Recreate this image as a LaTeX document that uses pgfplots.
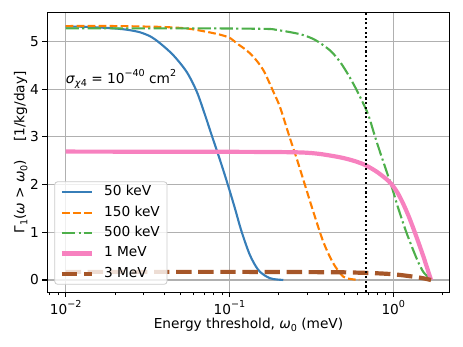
\documentclass[border=0pt]{standalone}
\usepackage{pgfplots}
\pgfplotsset{compat=1.18}
\usepackage{fontspec}
\setmainfont{DejaVu Sans}
\definecolor{cbblue}{HTML}{377EB8}
\definecolor{cborange}{HTML}{FF7F00}
\definecolor{cbgreen}{HTML}{4DAF4A}
\definecolor{cbpink}{HTML}{F781BF}
\definecolor{cbbrown}{HTML}{A65628}
\definecolor{gridgray}{HTML}{B0B0B0}
\definecolor{leggray}{HTML}{CCCCCC}
\newcommand{\lsub}[1]{\raisebox{-0.22em}{\fontsize{9.6}{10}\selectfont #1}}
\newcommand{\lsup}[1]{\raisebox{0.5em}{\fontsize{9.6}{10}\selectfont #1}}
\newcommand{\ff}{\fontsize{13.7}{16}\selectfont}

\pgfplotstableread{
x y
0.010 5.31
0.013 5.305
0.016 5.29
0.020 5.27
0.024 5.24
0.0284 5.19
0.033 5.10
0.0377 4.96
0.0454 4.71
0.0548 4.36
0.0631 3.95
0.0709 3.46
0.0778 3.04
0.0842 2.69
0.0917 2.30
0.0997 1.90
0.108 1.50
0.1187 1.01
0.1334 0.52
0.150 0.21
0.1687 0.07
0.185 0.02
0.213 0.0
}\kevfifty

\pgfplotstableread{
x y
0.010 5.32
0.02 5.32
0.03 5.31
0.04 5.30
0.0548 5.27
0.07 5.21
0.0875 5.14
0.1007 5.07
0.1107 4.96
0.125 4.83
0.1397 4.68
0.1608 4.40
0.185 3.95
0.2036 3.62
0.234 2.97
0.257 2.55
0.289 1.99
0.325 1.43
0.374 0.80
0.430 0.35
0.495 0.07
0.55 0.02
0.62 0.0
}\kevonefifty

\pgfplotstableread{
x y
0.010 5.27
0.05 5.27
0.0875 5.27
0.1686 5.26
0.194 5.24
0.2695 5.15
0.333 5.03
0.411 4.81
0.473 4.57
0.531 4.30
0.583 4.05
0.641 3.77
0.704 3.46
0.7555 3.12
0.791 2.90
0.849 2.58
0.932 2.17
0.977 1.96
1.024 1.73
1.073 1.50
1.207 0.98
1.389 0.45
1.524 0.17
1.674 0.03
1.70 0.0
}\kevfivehundred

\pgfplotstableread{
x y
0.010 2.69
0.1 2.685
0.2 2.68
0.282 2.67
0.357 2.64
0.473 2.57
0.570 2.50
0.672 2.41
0.791 2.27
0.910 2.11
0.955 2.04
1.0 1.96
1.073 1.80
1.152 1.59
1.24 1.34
1.326 1.08
1.42 0.80
1.524 0.50
1.61 0.25
1.70 0.0
}\mevone

\pgfplotstableread{
x y
0.010 0.17
0.1 0.17
0.3 0.165
0.5 0.16
0.66 0.15
0.8 0.14
1.0 0.12
1.26 0.08
1.5 0.04
1.70 0.0
}\mevthree

\begin{document}
\begin{tikzpicture}
\path[use as bounding box] (0,0) rectangle (463pt,347pt);
\begin{axis}[
  at={(47.3pt,54.7pt)}, anchor=south west,
  scale only axis, width=402.4pt, height=279.6pt,
  xmode=log, xmin=0.00773, xmax=2.21, ymin=-0.258, ymax=5.60,
  axis line style={line width=1.1pt},
  tick align=outside, tick pos=left,
  major tick length=4.9pt, minor tick length=2.8pt,
  every major tick/.style={black, line width=1.1pt},
  every minor tick/.style={black, line width=0.8pt},
  grid=major, major grid style={color=gridgray, line width=1.1pt},
  xtick={0.01,0.1,1},
  xticklabels={10\lsup{−2},10\lsup{−1},10\lsup{0}},
  minor xtick={0.008,0.009,0.02,0.03,0.04,0.05,0.06,0.07,0.08,0.09,0.2,0.3,0.4,0.5,0.6,0.7,0.8,0.9,2},
  ytick={0,1,2,3,4,5},
  yticklabels={0,1,2,3,4,5},
  tick label style={font=\ff},
  every axis x label/.style={at={(axis description cs:0.5,-0.117)}, anchor=center, font=\ff},
  every axis y label/.style={at={(axis description cs:-0.066,0.5)}, rotate=90, anchor=center, font=\ff},
  xlabel={Energy threshold, \textit{ω}\lsub{0} (meV)},
  ylabel={Γ\lsub{1}(\textit{ω} > \textit{ω}\lsub{0})\hspace{18pt}[1/kg/day]},
  legend cell align=left,
  legend image code/.code={\draw[#1] (0pt,0pt) -- (30pt,0pt);},
  legend style={at={(0.0174,0.027)}, anchor=south west, draw=leggray, line width=0.8pt,
    rounded corners=3pt, fill=white, fill opacity=0.8, text opacity=1, draw opacity=1,
    font=\ff, inner xsep=5.2pt, inner ysep=4pt, row sep=7.4pt, column sep=8pt,
    nodes={font=\ff, inner xsep=2pt, inner ysep=0pt, text height=10pt, text depth=3pt}},
  every axis plot/.append style={line join=round},
]
\addplot[cbblue, line width=2.1pt, smooth, tension=0.5] table[x=x,y=y] {\kevfifty};
\addlegendentry{50 keV}
\addplot[cborange, line width=2.1pt, dash pattern=on 7.7pt off 3.3pt, smooth, tension=0.5] table[x=x,y=y] {\kevonefifty};
\addlegendentry{150 keV}
\addplot[cbgreen, line width=2.1pt, dash pattern=on 13.3pt off 3.3pt on 2.1pt off 3.3pt, smooth, tension=0.5] table[x=x,y=y] {\kevfivehundred};
\addlegendentry{500 keV}
\addplot[cbpink, line width=4.2pt, smooth, tension=0.5] table[x=x,y=y] {\mevone};
\addlegendentry{1 MeV}
\addplot[cbbrown, line width=4.2pt, dash pattern=on 15.4pt off 6.7pt, smooth, tension=0.5] table[x=x,y=y] {\mevthree};
\addlegendentry{3 MeV}
\addplot[black, line width=2.1pt, dash pattern=on 2.1pt off 2.6pt, forget plot] coordinates {(0.68,-0.258) (0.68,5.60)};
\node[anchor=base west, inner sep=0pt, font=\ff] at (axis cs:0.01,4.11) {\textit{σ}\lsub{\textit{χ}4} = 10\lsup{−40} cm\lsup{2}};
\end{axis}
\end{tikzpicture}
\end{document}
